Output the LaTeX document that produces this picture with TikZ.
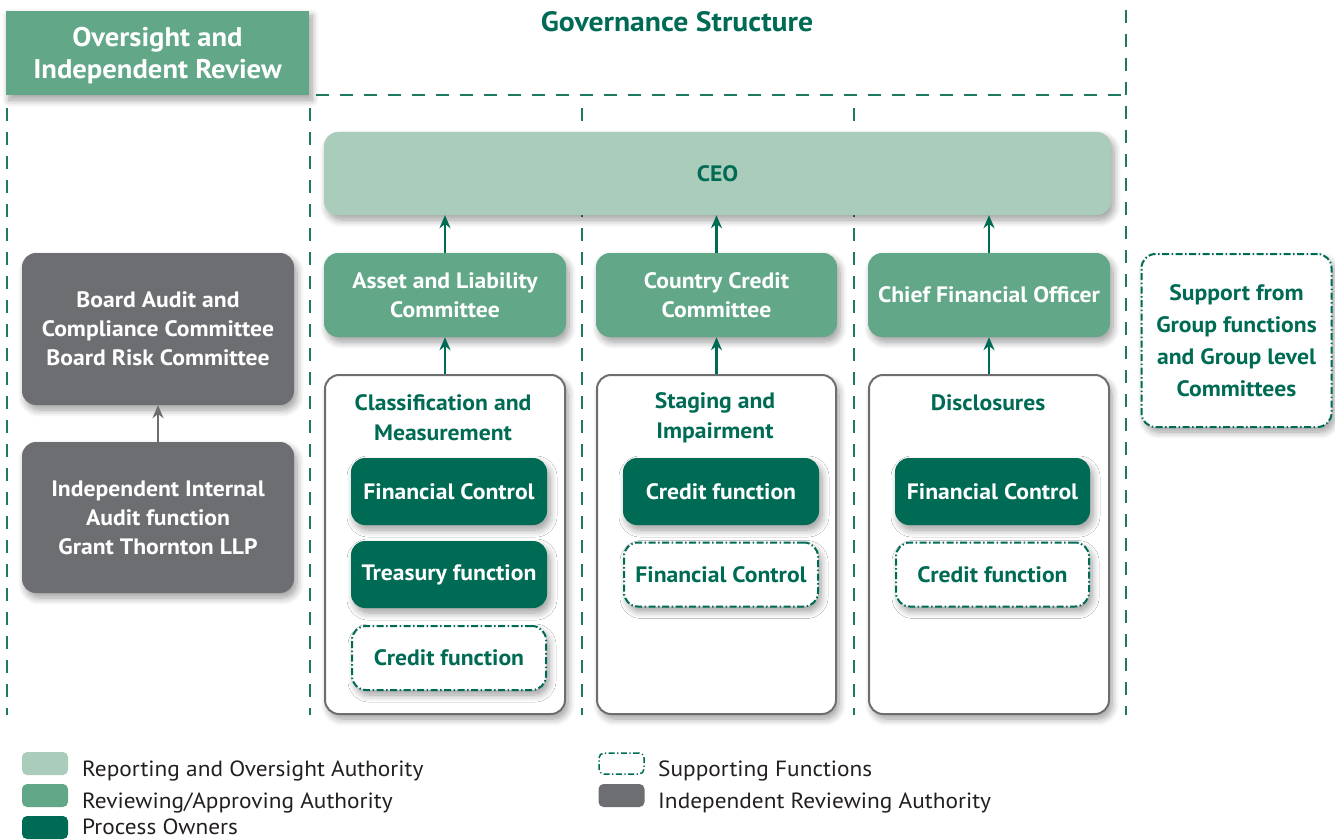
\documentclass[tikz,border=0pt]{standalone}
\usepackage{fontspec}
\setmainfont{PT Sans}[FakeStretch=1.06]
\usetikzlibrary{arrows.meta,shadows.blur}
\definecolor{dg}{HTML}{006B54}
\definecolor{mg}{HTML}{62A888}
\definecolor{lg}{HTML}{A9CCBB}
\definecolor{gr}{HTML}{6D6E71}
\definecolor{ln}{HTML}{1F7A61}
\definecolor{txt}{HTML}{231F20}
\tikzset{
  shad/.style={blur shadow={shadow xshift=3pt,shadow yshift=-5pt,shadow blur steps=8,shadow opacity=38,shadow blur radius=7pt}},
  box/.style={rounded corners=14pt, shad, align=center, inner sep=0pt, font=\bfseries\fontsize{22.3}{29}\selectfont},
  lightbox/.style={box, fill=lg, text=dg},
  medbox/.style={box, fill=mg, text=white},
  darkbox/.style={box, fill=dg, text=white},
  greybox/.style={box, fill=gr, text=white},
  dashdot/.style={draw=dg, line width=2pt, dash pattern=on 7pt off 2.5pt on 1.5pt off 2.5pt},
  supbox/.style={box, fill=white, dashdot, text=dg},
  areabox/.style={rounded corners=14pt, fill=white, draw=gr, line width=2pt, shad, inner sep=0pt},
  areatitle/.style={align=center, text=dg, font=\bfseries\fontsize{22.3}{30}\selectfont},
  divider/.style={draw=ln, line width=1.3pt, dash pattern=on 13pt off 11pt},
  arr/.style={draw=dg, line width=2.8pt, -{Stealth[length=13pt,width=11pt]}},
  garr/.style={draw=gr, line width=2.8pt, -{Stealth[length=13pt,width=11pt]}},
  swatch/.style={rounded corners=5pt, minimum width=46pt, minimum height=23pt, inner sep=0pt},
  legtext/.style={anchor=base west, text=txt, font=\fontsize{22}{26}\selectfont, inner sep=0pt},
}
\begin{document}
\begin{tikzpicture}[x=1pt,y=-1pt]
\useasboundingbox (0,0) rectangle (1335,840);
\clip (0,0) rectangle (1335,840);
% dividers
\draw[divider] (316,95) -- (1126,95);
\draw[divider] (7,108) -- (7,715);
\draw[divider] (310,108) -- (310,715);
\draw[divider] (582,108) -- (582,715);
\draw[divider] (854,108) -- (854,715);
\draw[divider] (1126,10) -- (1126,715);
% header
\node[fill=mg, shad, minimum width=303pt, minimum height=84pt, inner sep=0pt] (hdr) at (157.5,53) {};
\node[align=center, text=white, inner sep=0pt, font=\bfseries\fontsize{27}{32}\selectfont] (hdrtext) at (157.5,56) {Oversight and\\Independent Review};
\node[text=dg, font=\bfseries\fontsize{28}{30}\selectfont] (title) at (677,22) {Governance Structure};
% CEO and committees
\node[lightbox, minimum width=787pt, minimum height=83pt] (ceo) at (717.5,173.5) {CEO};
\node[medbox, minimum width=242pt, minimum height=84pt] (alco) at (445,295) {Asset and Liability\\Committee};
\node[medbox, minimum width=241pt, minimum height=84pt] (ccc) at (716.5,295) {Country Credit\\Committee};
\node[medbox, minimum width=242pt, minimum height=84pt] (cfo) at (989,295) {Chief Financial Officer};
% areas
\node[areabox, minimum width=240pt, minimum height=339pt] (area1) at (445,544.5) {};
\node[areabox, minimum width=239pt, minimum height=339pt] (area2) at (716.5,544.5) {};
\node[areabox, minimum width=240pt, minimum height=339pt] (area3) at (989,544.5) {};
\node[areatitle] (t1) at (443,418) {Classification and\\Measurement};
\node[areatitle] (t2) at (715,418) {Staging and\\Impairment};
\node[areatitle] (t3) at (988,403) {Disclosures};
% process owners / supporting
\node[darkbox, minimum width=196pt, minimum height=67pt] (fc1) at (449,491.5) {Financial Control};
\node[darkbox, minimum width=196pt, minimum height=67pt] (tr1) at (449,574.5) {Treasury function};
\node[supbox, minimum width=194pt, minimum height=64pt] (cr1) at (449,658) {Credit function};
\node[darkbox, minimum width=196pt, minimum height=67pt] (cf2) at (721,491.5) {Credit function};
\node[supbox, minimum width=194pt, minimum height=64pt] (fc2) at (721,574.5) {Financial Control};
\node[darkbox, minimum width=195pt, minimum height=67pt] (fc3) at (992.5,491.5) {Financial Control};
\node[supbox, minimum width=193pt, minimum height=64pt] (cr3) at (992.5,574.5) {Credit function};
% oversight
\node[greybox, minimum width=272pt, minimum height=152pt] (bac) at (158,329) {Board Audit and\\Compliance Committee\\Board Risk Committee};
\node[greybox, minimum width=272pt, minimum height=151pt] (iia) at (158,517.5) {Independent Internal\\Audit function\\Grant Thornton LLP};
% support
\node[supbox, minimum width=190pt, minimum height=173pt, font=\bfseries\fontsize{22.3}{32}\selectfont] (sup) at (1236.5,340.5) {Support from\\Group functions\\and Group level\\Committees};
% arrows
\draw[arr] (alco.north) -- (alco.north |- ceo.south);
\draw[arr] (ccc.north) -- (ccc.north |- ceo.south);
\draw[arr] (cfo.north) -- (cfo.north |- ceo.south);
\draw[arr] (area1.north) -- (alco.south);
\draw[arr] (area2.north) -- (ccc.south);
\draw[arr] (area3.north) -- (cfo.south);
\draw[garr] (iia.north) -- (bac.south);
% legend
\node[swatch, fill=lg] (s1) at (45,763.5) {};
\node[legtext] (l1) at (82,776) {Reporting and Oversight Authority};
\node[swatch, fill=mg] (s2) at (45,795.5) {};
\node[legtext] (l2) at (82,808) {Reviewing/Approving Authority};
\node[swatch, fill=dg] (s3) at (45,827.5) {};
\node[legtext] (l3) at (82,834) {Process Owners};
\node[swatch, draw=dg, line width=1.5pt, dash pattern=on 6pt off 2.5pt on 1.2pt off 2.5pt, minimum width=45pt, minimum height=21pt] (s4) at (621.5,763.5) {};
\node[legtext] (l4) at (658,776) {Supporting Functions};
\node[swatch, fill=gr] (s5) at (621.5,795.5) {};
\node[legtext] (l5) at (658,808) {Independent Reviewing Authority};
\end{tikzpicture}
\end{document}
